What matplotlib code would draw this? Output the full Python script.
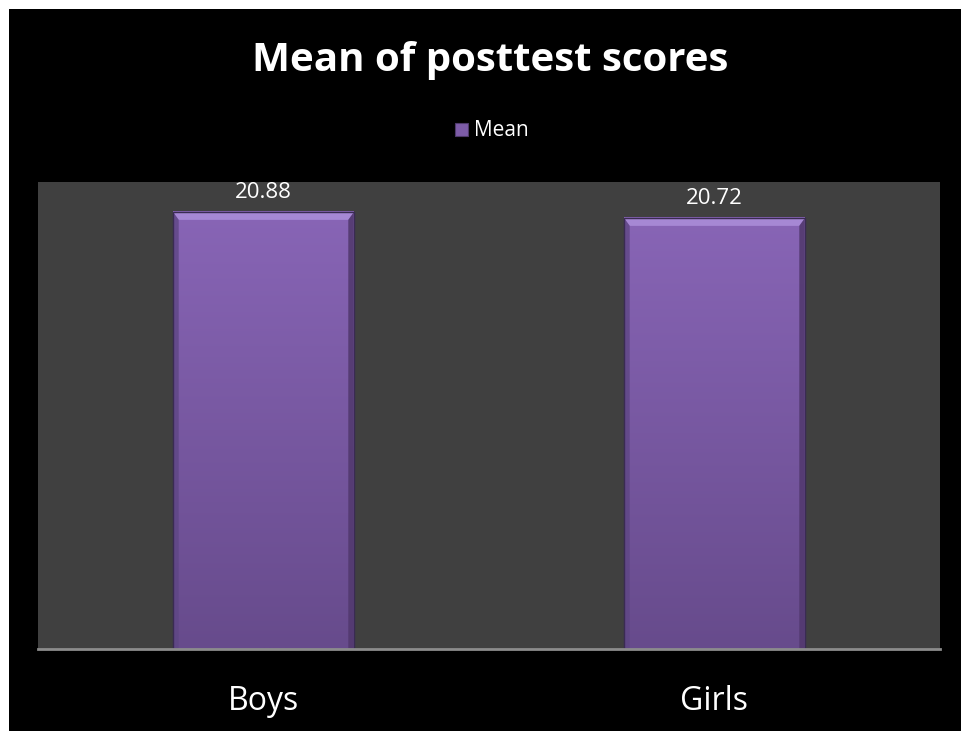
import matplotlib.pyplot as plt
import numpy as np
from matplotlib.patches import Rectangle, Polygon
from matplotlib.colors import LinearSegmentedColormap

# data
groups = ['Boys', 'Girls']
means = [20.88, 20.72]

fig = plt.figure(figsize=(9.62, 7.31), dpi=100, facecolor='white')
# black slide background (thin white strip left and top)
fig.patches.append(Rectangle((9 / 962, 0), 1, 1 - 9 / 731, transform=fig.transFigure,
                             facecolor='black', edgecolor='none', zorder=-10))

ax = fig.add_axes([38 / 962, (731 - 648.5) / 731, 902 / 962, 466.5 / 731])
ax.set_facecolor('#404040')

x = np.arange(len(groups))
bars = ax.bar(x, means, width=0.4, color='#7d5ca8', edgecolor='#4e3a6b', linewidth=0.8,
              label='Mean', zorder=2)
ax.set_xlim(-0.5, 1.5)
ax.set_ylim(9.25, 21.69)
ymin = ax.get_ylim()[0]

# vertical gradient + bevel on each bar
cmap = LinearSegmentedColormap.from_list('purp', ['#674b8c', '#8865b6'])
grad = np.linspace(0, 1, 256).reshape(-1, 1)
for b in bars:
    x0, w, h = b.get_x(), b.get_width(), b.get_height()
    top = b.get_y() + h
    ax.imshow(grad, extent=[x0, x0 + w, ymin, top], origin='lower',
              cmap=cmap, aspect='auto', zorder=2.5)
    # bevel: light top, darker sides
    dx, dy = 0.012, 0.2
    ax.add_patch(Polygon([(x0, top), (x0 + w, top), (x0 + w - dx, top - dy), (x0 + dx, top - dy)],
                         closed=True, facecolor='#a688d4', edgecolor='none', zorder=3))
    ax.add_patch(Polygon([(x0, ymin), (x0, top), (x0 + dx, top - dy), (x0 + dx, ymin)],
                         closed=True, facecolor='#5e4684', edgecolor='none', zorder=3, alpha=0.8))
    ax.add_patch(Polygon([(x0 + w, ymin), (x0 + w, top), (x0 + w - dx, top - dy), (x0 + w - dx, ymin)],
                         closed=True, facecolor='#52396f', edgecolor='none', zorder=3, alpha=0.9))
    ax.add_patch(Rectangle((x0, ymin), w, top - ymin, facecolor='none', edgecolor='#3a2b52',
                           linewidth=1.0, zorder=3.5))
    ax.text(x0 + w / 2, top + 0.25, f'{h:.2f}', ha='center', va='bottom',
            color='white', fontsize=16, family='Open Sans', zorder=4)

for s in ['top', 'left', 'right']:
    ax.spines[s].set_visible(False)
ax.spines['bottom'].set_color('#8c8c8c')
ax.spines['bottom'].set_linewidth(2)
ax.spines['bottom'].set_zorder(5)
ax.set_yticks([])
ax.set_xticks(x)
ax.set_xticklabels(groups, color='white', fontsize=23, family='Open Sans')
ax.tick_params(axis='x', length=0, pad=26)

fig.text(490 / 962, 1 - 61 / 731, 'Mean of posttest scores', ha='center', va='center',
         color='white', fontsize=29, fontweight='bold', family='Open Sans')

leg = fig.legend(handles=[bars], labels=['Mean'], loc='center', bbox_to_anchor=(492 / 962, 1 - 131 / 731),
                 frameon=False, handlelength=0.6, handleheight=0.6, handletextpad=0.3,
                 prop={'family': 'Open Sans', 'size': 15})
for t in leg.get_texts():
    t.set_color('white')

fig.savefig('out.png', dpi=100, facecolor=fig.get_facecolor())
